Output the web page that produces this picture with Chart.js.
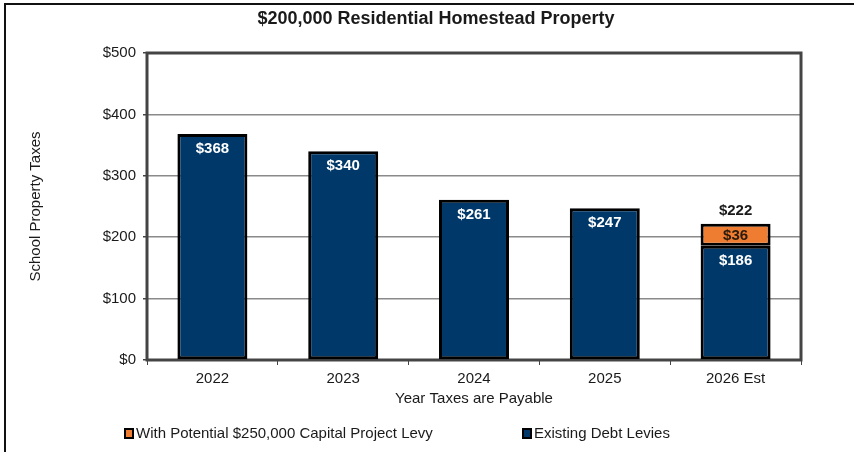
<!DOCTYPE html>
<html>
<head>
<meta charset="utf-8">
<script src="https://cdn.jsdelivr.net/npm/chart.js@4"></script>
<style>
  html, body { margin: 0; padding: 0; background: #fff; }
  #wrap { width: 854px; height: 452px; }
</style>
</head>
<body>
<div id="wrap"><canvas id="taxes" width="854" height="452"></canvas></div>
<script>
// Chart data
let years = ["2022", "2023", "2024", "2025", "2026 Est"];
let existingDebt = [368, 340, 261, 247, 186];
let capitalLevy = [null, null, null, null, 36];
let yTicks = [0, 100, 200, 300, 400, 500];

let chartTitle = "$200,000 Residential Homestead Property";

// Colors
let navy = "#003869";
let orange = "#EE7D31";
let frame = "#444444";
let textColor = "#1a1a1a";
let fontFamily = "'Liberation Sans', Arial, sans-serif";

// Title, labels inside / above the bars, the frame, legend and page border
let decorations = {
  id: 'decorations',
  beforeDatasetsDraw(chart) {
    let ctx = chart.ctx;
    let a = chart.chartArea;
    ctx.save();
    ctx.strokeStyle = frame;
    ctx.lineWidth = 3;
    ctx.strokeRect(a.left, a.top, a.right - a.left, a.bottom - a.top);
    ctx.restore();
  },
  afterDraw(chart) {
    let ctx = chart.ctx;
    let debtMeta = chart.getDatasetMeta(0);
    let levyMeta = chart.getDatasetMeta(1);
    ctx.save();

    // title
    ctx.font = "bold 18px " + fontFamily;
    ctx.textAlign = "center";
    ctx.textBaseline = "middle";
    ctx.fillStyle = textColor;
    ctx.fillText(chartTitle, 436, 19);

    ctx.font = "bold 15px " + fontFamily;
    debtMeta.data.forEach((bar, i) => {
      ctx.fillStyle = "#ffffff";
      ctx.fillText("$" + existingDebt[i], bar.x, bar.y + 15);
      if (capitalLevy[i] != null) {
        let seg = levyMeta.data[i];
        ctx.fillStyle = "#2a1a0a";
        ctx.fillText("$" + capitalLevy[i], seg.x, (seg.y + seg.base) / 2 + 1);
        ctx.fillStyle = textColor;
        ctx.fillText("$" + (existingDebt[i] + capitalLevy[i]), seg.x, seg.y - 13);
      }
    });

    // legend (levy first, as in the original)
    let items = [
      { label: chart.data.datasets[1].label, color: orange, x: 124 },
      { label: chart.data.datasets[0].label, color: navy, x: 522 }
    ];
    ctx.font = "15px " + fontFamily;
    ctx.textAlign = "left";
    items.forEach(it => {
      ctx.fillStyle = "#000";
      ctx.fillRect(it.x, 428, 10, 11);
      ctx.fillStyle = it.color;
      ctx.fillRect(it.x + 2, 430, 6, 7);
      ctx.fillStyle = textColor;
      ctx.fillText(it.label, it.x + 12, 434);
    });

    // page border (left and top)
    ctx.fillStyle = "#111";
    ctx.fillRect(4, 3, 2, 449);
    ctx.fillRect(4, 3, 850, 2);
    ctx.restore();
  }
};

new Chart(document.getElementById("taxes").getContext('2d'), {
  type: 'bar',
  data: {
    labels: years,
    datasets: [{
      label: "Existing Debt Levies",
      backgroundColor: navy,
      borderColor: "#000",
      borderWidth: 3,
      borderSkipped: false,
      data: existingDebt
    }, {
      label: "With Potential $250,000 Capital Project Levy",
      backgroundColor: orange,
      borderColor: "#000",
      borderWidth: 3,
      borderSkipped: false,
      data: capitalLevy
    }]
  },
  options: {
    responsive: false,
    animation: false,
    layout: {
      padding: { left: 20, right: 53, top: 53, bottom: 37 }
    },
    datasets: {
      bar: { categoryPercentage: 1, barPercentage: 0.535 }
    },
    scales: {
      x: {
        stacked: true,
        afterFit(scale) { scale.height = 55; },
        grid: {
          drawOnChartArea: false,
          tickLength: 5,
          tickColor: frame,
          tickWidth: 1
        },
        border: { display: false },
        ticks: {
          color: textColor,
          padding: 5,
          font: { family: fontFamily, size: 15 }
        },
        title: {
          display: true,
          text: "Year Taxes are Payable",
          color: textColor,
          padding: { top: 4, bottom: 7 },
          font: { family: fontFamily, size: 15 }
        }
      },
      y: {
        stacked: true,
        min: 0,
        max: 500,
        afterFit(scale) { scale.width = 127; },
        afterBuildTicks(scale) { scale.ticks = yTicks.map(v => ({ value: v })); },
        grid: {
          color: "#8a8a8a",
          lineWidth: 1.5,
          tickLength: 4,
          tickColor: frame
        },
        border: { display: false },
        ticks: {
          color: textColor,
          padding: 7,
          font: { family: fontFamily, size: 15 },
          callback: v => "$" + v
        },
        title: {
          display: true,
          text: "School Property Taxes",
          color: textColor,
          padding: { top: 7, bottom: 0 },
          font: { family: fontFamily, size: 15 }
        }
      }
    },
    plugins: {
      legend: { display: false },
      tooltip: { enabled: false },
      title: { display: false }
    }
  },
  plugins: [decorations]
});
</script>
</body>
</html>
